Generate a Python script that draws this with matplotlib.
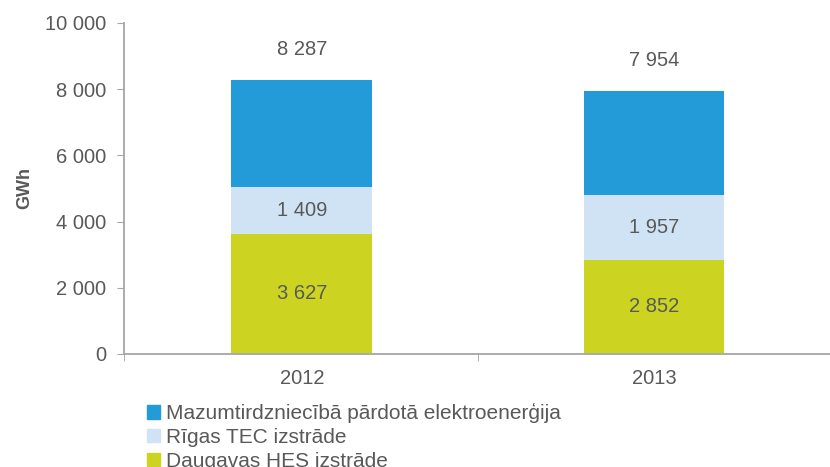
import matplotlib
matplotlib.use("Agg")
import matplotlib.pyplot as plt
from matplotlib.patches import Patch
from matplotlib.ticker import FuncFormatter

years = ["2012", "2013"]
daugavas = [3627, 2852]
rigas = [1409, 1957]
totals = [8287, 7954]
mazum = [t - d - r for t, d, r in zip(totals, daugavas, rigas)]

names = ["Mazumtirdzniecībā pārdotā elektroenerģija", "Rīgas TEC izstrāde", "Daugavas HES izstrāde"]
c_blue, c_light, c_green = "#229bd8", "#cfe3f4", "#ccd321"
txt = "#595959"
grey = "#a6a6a6"

plt.rcParams["font.family"] = ["Liberation Sans", "DejaVu Sans"]

fig = plt.figure(figsize=(8.3, 4.67), dpi=100)
ax = fig.add_axes([0.1494, 0.242, 0.8506, 0.709])

x = [0, 1]
w = 0.40
ax.bar(x, daugavas, w, color=c_green)
ax.bar(x, rigas, w, bottom=daugavas, color=c_light)
b2 = [d + r for d, r in zip(daugavas, rigas)]
ax.bar(x, mazum, w, bottom=b2, color=c_blue)

def fmt(v):
    return "{:,}".format(int(v)).replace(",", " ")

for i in x:
    ax.text(i, daugavas[i] / 2, fmt(daugavas[i]), ha="center", va="center", fontsize=14.5, color=txt)
    ax.text(i, daugavas[i] + rigas[i] / 2, fmt(rigas[i]), ha="center", va="center", fontsize=14.5, color=txt)
    ax.text(i, totals[i] + 900, fmt(totals[i]), ha="center", va="center", fontsize=14.5, color=txt)

ax.set_ylim(0, 10000)
ax.set_xlim(-0.505, 1.46)
ax.set_yticks(range(0, 10001, 2000))
ax.yaxis.set_major_formatter(FuncFormatter(lambda v, p: fmt(v)))
ax.set_xticks(x)
ax.set_xticklabels(years)
ax.set_xticks([-0.505, 0.5, 1.5], minor=True)
ax.tick_params(axis="x", which="major", length=0, pad=11, labelsize=14.5, labelcolor=txt)
ax.tick_params(axis="x", which="minor", length=5, color=grey)
ax.tick_params(axis="y", length=5, color=grey, labelsize=14.5, labelcolor=txt, pad=8)
for s in ["top", "right"]:
    ax.spines[s].set_visible(False)
for s in ["left", "bottom"]:
    ax.spines[s].set_color(grey)
    ax.spines[s].set_linewidth(1.3)
ax.set_ylabel("GWh", fontsize=13, fontweight="bold", color=txt, labelpad=8)

handles = [Patch(color=c_blue), Patch(color=c_light), Patch(color=c_green)]
fig.legend(handles, names, loc="lower left", bbox_to_anchor=(0.165, -0.03), frameon=False,
           fontsize=15, labelcolor=txt, handlelength=0.6, handleheight=0.6,
           handletextpad=0.3, labelspacing=0.22, borderpad=0)

fig.savefig("out.png", dpi=100)
